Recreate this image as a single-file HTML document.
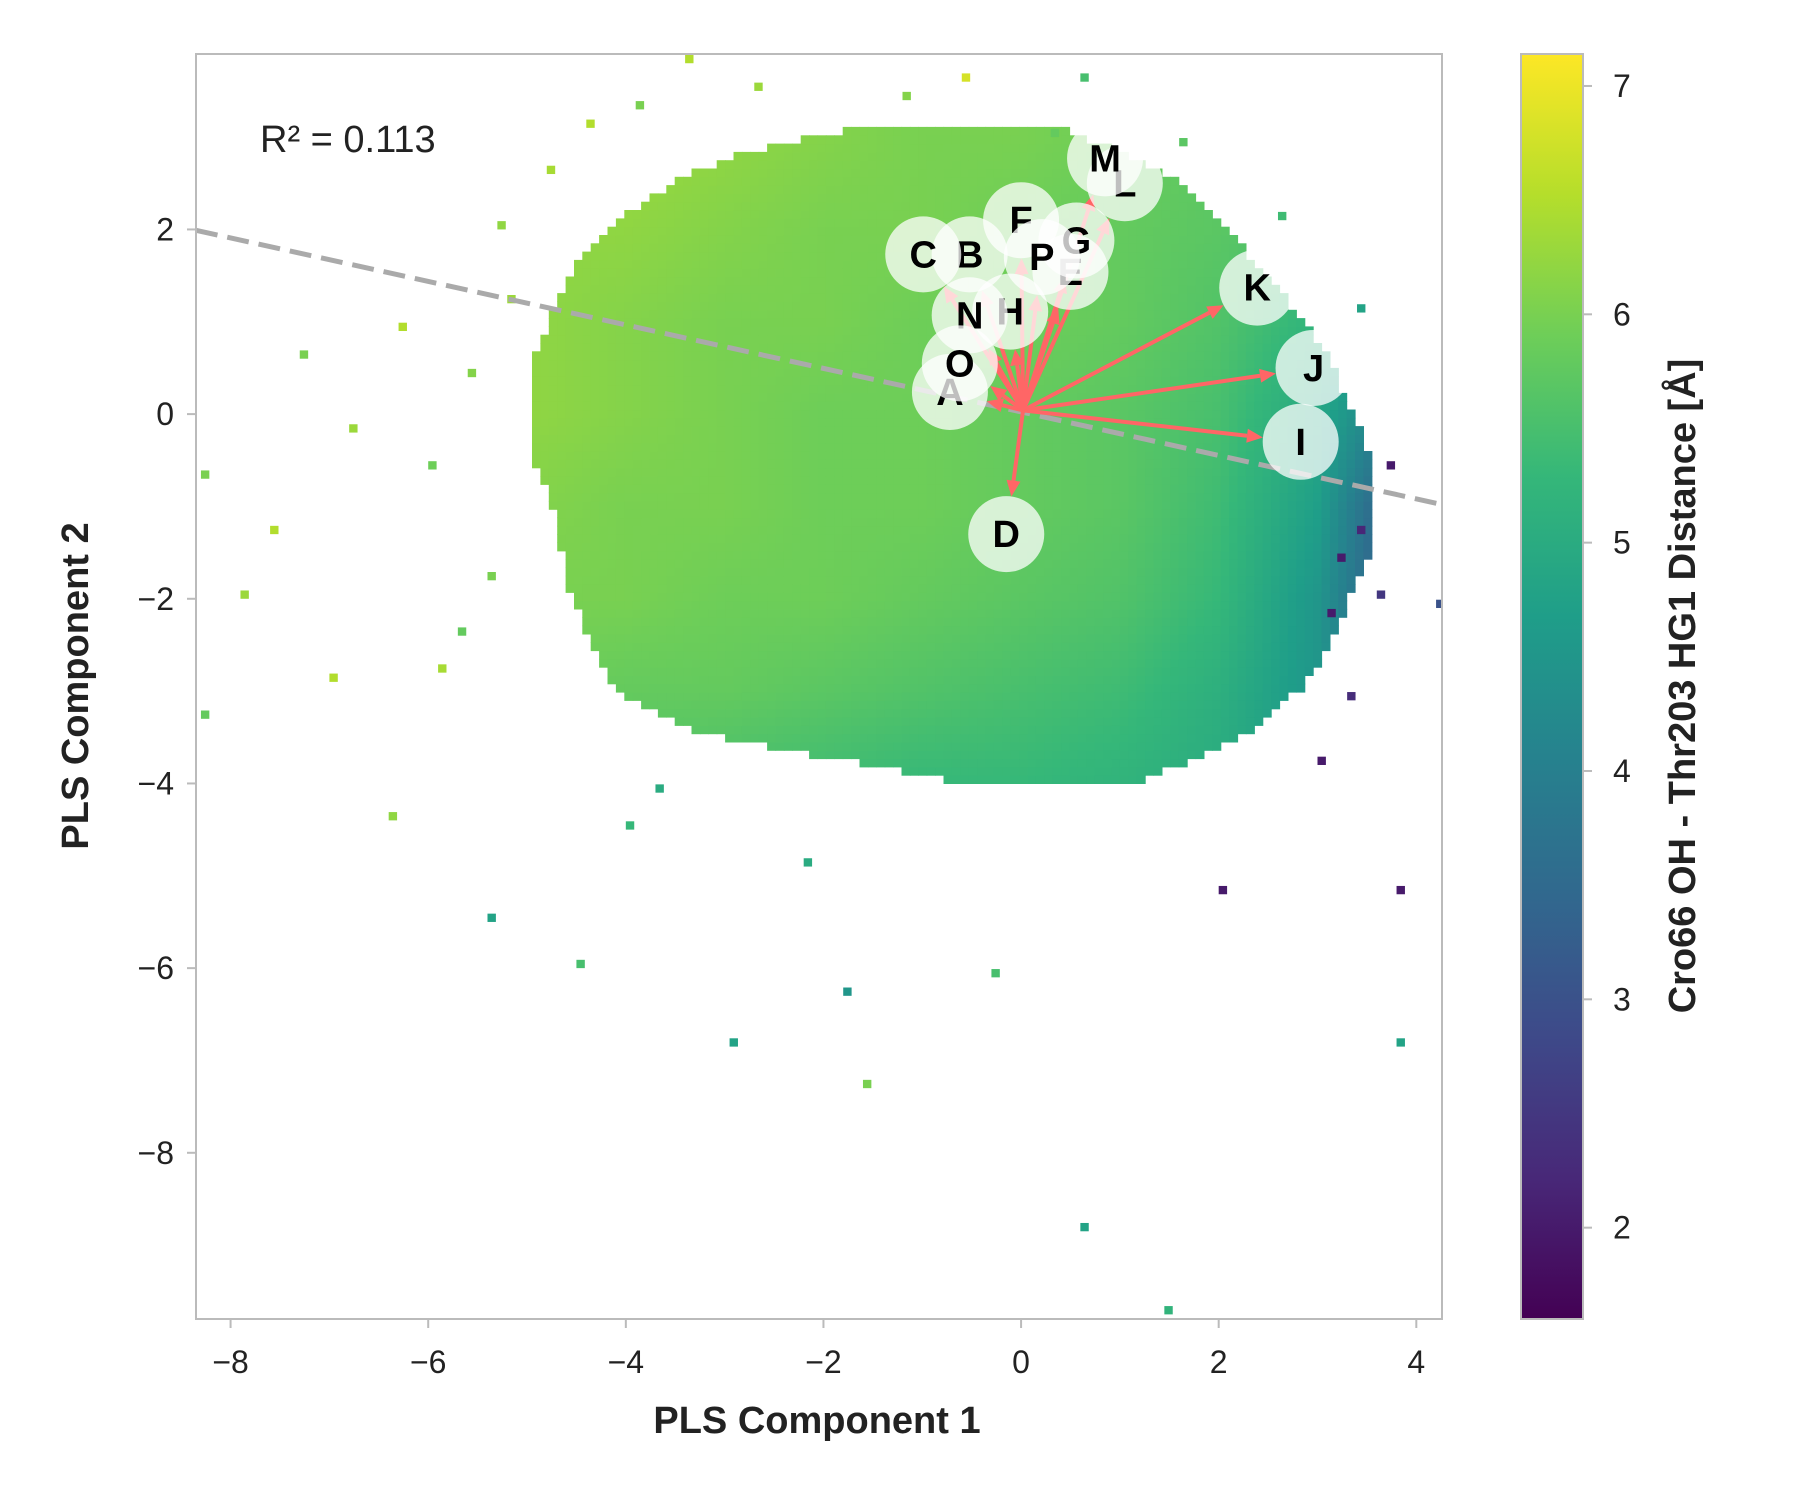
<!DOCTYPE html>
<html><head><meta charset="utf-8"><style>
html,body{margin:0;padding:0;background:#fff;}
svg{display:block;font-family:"Liberation Sans",sans-serif;}
</style></head><body>
<svg id="chart" width="1800" height="1500" viewBox="0 0 1800 1500">
<defs><clipPath id="clip"><rect x="196" y="54" width="1246" height="1265"/></clipPath>
<linearGradient id="vir" x1="0" y1="1" x2="0" y2="0"></linearGradient></defs>
<g id="cells" clip-path="url(#clip)"></g>
<g id="outl" clip-path="url(#clip)"></g>
<line id="fit" stroke="#aaaaaa" stroke-width="5" stroke-dasharray="22,10" clip-path="url(#clip)"/>
<g id="arrows"></g>
<g id="labels"></g>
<rect x="196" y="54" width="1246" height="1265" fill="none" stroke="#bbbbbb" stroke-width="2"/>
<g id="xticks"></g>
<g id="yticks"></g>
<text x="260" y="152" font-size="38" fill="#222">R² = 0.113</text>
<text x="817" y="1433" font-size="38" font-weight="bold" text-anchor="middle" fill="#222">PLS Component 1</text>
<text transform="translate(88,686) rotate(-90)" font-size="38" font-weight="bold" text-anchor="middle" fill="#222">PLS Component 2</text>
<rect id="cbar" x="1521" y="54" width="62" height="1265" fill="url(#vir)" stroke="#bbbbbb" stroke-width="2"/>
<g id="cticks"></g>
<text transform="translate(1695,686) rotate(-90)" font-size="38" font-weight="bold" text-anchor="middle" fill="#222">Cro66 OH - Thr203 HG1 Distance [Å]</text>
</svg>
<script>
const xTicks=[-8,-6,-4,-2,0,2,4];
const yTicks=[2,0,-2,-4,-6,-8];
const cTicks=[2,3,4,5,6,7];
// dense-region extents per row
const rowY=[3.1,2.8,2.5,2.0,1.5,1.0,0.5,0,-0.5,-1,-1.5,-2,-2.5,-3,-3.5,-4];
const rowXmin=[-1.5,-2.8,-3.5,-4.2,-4.6,-4.8,-5.0,-5.0,-5.0,-4.8,-4.7,-4.6,-4.4,-4.2,-3.3,-0.8];
const rowXmax=[0.2,1.0,1.5,2.0,2.4,2.8,3.1,3.3,3.5,3.5,3.5,3.3,3.1,2.8,2.3,1.2];
// coarse mean distance grid
const gridX=[-5,-4,-3,-2,-1,0,1,2,3,4];
const gridY=[3,2,1,0,-1,-2,-3,-4];
const gridV=[
[6.3,6.3,6.2,6.1,6.0,6.0,5.9,5.7,5.6,5.5],
[6.2,6.2,6.1,6.0,6.0,5.9,5.8,5.7,5.5,5.2],
[6.2,6.1,6.0,6.0,5.9,5.9,5.8,5.6,5.2,4.6],
[6.2,6.1,6.0,5.9,5.9,5.8,5.7,5.5,4.9,3.6],
[6.1,6.0,6.0,5.9,5.9,5.8,5.7,5.4,4.7,2.6],
[6.0,6.0,5.9,5.9,5.8,5.7,5.6,5.3,4.5,2.6],
[5.9,5.8,5.8,5.7,5.6,5.5,5.4,5.1,4.5,3.0],
[5.7,5.6,5.5,5.4,5.3,5.3,5.2,5.0,4.6,3.5]];
const outX=[-8.3,-7.9,-7.0,-8.3,-2.95,-1.6,0.6,1.45,3.8,3.8,4.2,-5.4,-4.5,-3.4,-0.6,0.6,-7.3,-6.8,-1.8,-0.3,3.2,3.4,3.1,3.6,3.0,-6.4,-5.9,-7.6,2.0,-3.7,-5.2,-5.6,-6.0,-6.3,-5.4,-4.8,-5.7,-5.3,-4.4,-3.9,-2.7,-1.2,0.3,1.6,2.6,3.4,3.7,3.3,-4.0,-2.2];
const outY=[-0.7,-2.0,-2.9,-3.3,-6.85,-7.3,-8.85,-9.75,-6.85,-5.2,-2.1,-5.5,-6.0,3.8,3.6,3.6,0.6,-0.2,-6.3,-6.1,-1.6,-1.3,-2.2,-2.0,-3.8,-4.4,-2.8,-1.3,-5.2,-4.1,1.2,0.4,-0.6,0.9,-1.8,2.6,-2.4,2.0,3.1,3.3,3.5,3.4,3.0,2.9,2.1,1.1,-0.6,-3.1,-4.5,-4.9];
const outV=[6.0,6.3,6.5,5.8,4.8,6.0,4.8,5.2,4.8,2.0,3.0,4.8,5.5,6.5,6.8,5.5,6.0,6.3,4.5,5.5,2.0,2.2,2.0,2.5,2.0,6.2,6.4,6.5,2.0,5.0,6.3,6.1,5.9,6.5,6.0,6.4,5.8,6.2,6.5,6.0,6.3,6.1,5.8,5.7,5.4,4.8,2.0,2.3,5.3,5.0];
const loadNames=["A","B","C","D","E","F","G","H","I","J","K","L","M","N","O","P"];
const loadX=[-0.72,-0.52,-0.99,-0.15,0.5,0.0,0.56,-0.11,2.83,2.96,2.39,1.05,0.85,-0.52,-0.62,0.21];
const loadY=[0.24,1.73,1.73,-1.3,1.54,2.1,1.88,1.11,-0.3,0.5,1.37,2.5,2.77,1.07,0.55,1.7];
const originX=0.02, originY=0.04;
const fitSlope=-0.2355, fitIntercept=0.024;

const X0=196,X1=1442,Y0=54,Y1=1319, xmin=-8.35,xmax=4.26,ymin=-9.8,ymax=3.9, cmin=1.6,cmax=7.14;
const sx=v=>X0+(v-xmin)/(xmax-xmin)*(X1-X0);
const sy=v=>Y1-(v-ymin)/(ymax-ymin)*(Y1-Y0);
const sc=v=>Y1-(v-cmin)/(cmax-cmin)*(Y1-Y0);
const NS="http://www.w3.org/2000/svg";
const vir=["#440154","#482878","#3e4989","#31688e","#26828e","#1f9e89","#35b779","#6ece58","#b5de2b","#fde725"];
function hex(h){return[1,3,5].map(i=>parseInt(h.substr(i,2),16));}
function cmap(v){let t=Math.max(0,Math.min(1,(v-cmin)/(cmax-cmin)))*(vir.length-1);let i=Math.min(vir.length-2,Math.floor(t)),f=t-i;const a=hex(vir[i]),b=hex(vir[i+1]);return"rgb("+a.map((c,k)=>Math.round(c+(b[k]-c)*f)).join(",")+")";}
function mk(tag,attrs,parent){const e=document.createElementNS(NS,tag);for(const k in attrs)e.setAttribute(k,attrs[k]);parent.appendChild(e);return e;}
function interp(xs,vs,x){if(x>=xs[0])return vs[0];for(let i=0;i<xs.length-1;i++){if(x<=xs[i]&&x>=xs[i+1]){const f=(xs[i]-x)/(xs[i]-xs[i+1]);return vs[i]+(vs[i+1]-vs[i])*f;}}return vs[vs.length-1];}
function gridVal(x,y){
 const gx=Math.max(0,Math.min(gridX.length-1.001,(x-gridX[0])));
 const gy=Math.max(0,Math.min(gridY.length-1.001,(gridY[0]-y)));
 const i=Math.floor(gx),j=Math.floor(gy),fx=gx-i,fy=gy-j;
 const a=gridV[j][i],b=gridV[j][i+1],c=gridV[j+1][i],d=gridV[j+1][i+1];
 return a*(1-fx)*(1-fy)+b*fx*(1-fy)+c*(1-fx)*fy+d*fx*fy;}
const grad=document.getElementById("vir");
vir.forEach((c,i)=>mk("stop",{offset:(i/(vir.length-1)*100)+"%","stop-color":c},grad));
const cells=document.getElementById("cells");
const bw=0.085,bh=0.09;
for(let y=rowY[rowY.length-1];y<=rowY[0];y+=bh){
 const lo=interp(rowY,rowXmin,y),hi=interp(rowY,rowXmax,y);
 for(let x=xmin+Math.ceil((lo-xmin)/bw)*bw;x<hi;x+=bw){
  const r=mk("rect",{x:sx(x).toFixed(1),y:sy(y+bh).toFixed(1),width:(sx(x+bw)-sx(x)+0.6).toFixed(1),height:(sy(y)-sy(y+bh)+0.6).toFixed(1),fill:cmap(gridVal(x+bw/2,y+bh/2))},cells);
  
  
 }
}
const outl=document.getElementById("outl");
outX.forEach((x,i)=>{const r=mk("rect",{x:sx(x),y:sy(outY[i]+bh),width:sx(x+bw)-sx(x),height:sy(outY[i])-sy(outY[i]+bh),fill:cmap(outV[i])},outl);
 
 });
const fit=document.getElementById("fit");
fit.setAttribute("x1",sx(xmin));fit.setAttribute("y1",sy(fitSlope*xmin+fitIntercept));
fit.setAttribute("x2",sx(xmax));fit.setAttribute("y2",sy(fitSlope*xmax+fitIntercept));
const arrows=document.getElementById("arrows"),labels=document.getElementById("labels");
const ox=sx(originX),oy=sy(originY),R=38;
loadNames.forEach((n,i)=>{
 const tx=sx(loadX[i]),ty=sy(loadY[i]);const dx=tx-ox,dy=ty-oy,L=Math.hypot(dx,dy);const ux=dx/L,uy=dy/L;
 const ex=ox+ux*(L-R),ey=oy+uy*(L-R);const hl=16,hw=7;
 const bx=ex-ux*hl,by=ey-uy*hl;
 const ln=mk("line",{x1:ox,y1:oy,x2:bx,y2:by,stroke:"#ff6666","stroke-width":4},arrows);
 
 
 const hd=mk("polygon",{points:`${ex},${ey} ${bx-uy*hw},${by+ux*hw} ${bx+uy*hw},${by-ux*hw}`,fill:"#ff6666"},arrows);
 
 
});
loadNames.forEach((n,i)=>{
 const tx=sx(loadX[i]),ty=sy(loadY[i]);
 const c=mk("circle",{cx:tx,cy:ty,r:R,fill:"#ffffff","fill-opacity":0.75},labels);
 
 
 const t=mk("text",{x:tx,y:ty+13,"font-size":38,"font-weight":"bold","text-anchor":"middle",fill:"#000"},labels);
 t.textContent=n;
 
 
});
const xt=document.getElementById("xticks");
xTicks.forEach(v=>{const l=mk("line",{x1:sx(v),x2:sx(v),y1:Y1,y2:Y1+9,stroke:"#bbb","stroke-width":2},xt);
 
 const t=mk("text",{x:sx(v),y:Y1+54,"font-size":32,"text-anchor":"middle",fill:"#222"},xt);t.textContent=v<0?"\u2212"+(-v):v;
 });
const yt=document.getElementById("yticks");
yTicks.forEach(v=>{const l=mk("line",{x1:X0-9,x2:X0,y1:sy(v),y2:sy(v),stroke:"#bbb","stroke-width":2},yt);
 
 const t=mk("text",{x:X0-22,y:sy(v)+11,"font-size":32,"text-anchor":"end",fill:"#222"},yt);t.textContent=v<0?"\u2212"+(-v):v;
 });
const ct=document.getElementById("cticks");
cTicks.forEach(v=>{const l=mk("line",{x1:1583,x2:1592,y1:sc(v),y2:sc(v),stroke:"#bbb","stroke-width":2},ct);
 
 const t=mk("text",{x:1613,y:sc(v)+11,"font-size":32,fill:"#222"},ct);t.textContent=v;
 });
</script>
</body></html>
